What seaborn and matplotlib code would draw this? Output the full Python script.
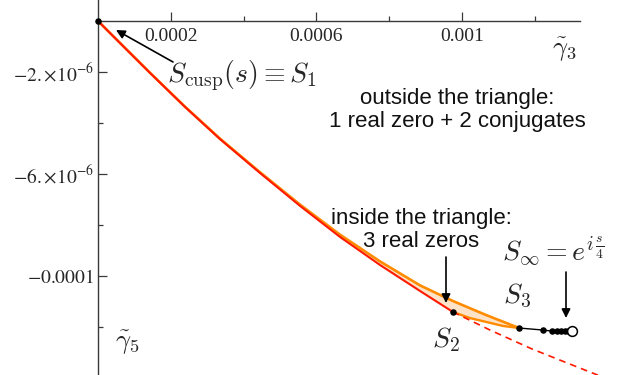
import numpy as np
import pandas as pd
import matplotlib
matplotlib.use("Agg")
import matplotlib.pyplot as plt
import seaborn as sns

# ==============================================================
# Values (gamma3 on x, gamma5 on y)
# ==============================================================
# S1 -> S2 : cusp curve (red, solid)
cusp_g3 = [0.0, 0.60e-4, 1.43e-4, 2.39e-4, 3.35e-4, 4.45e-4, 5.55e-4,
           6.65e-4, 7.75e-4, 8.85e-4, 9.75e-4]
cusp_g5 = [0.0, -0.86e-6, -2.04e-6, -3.37e-6, -4.63e-6, -5.96e-6, -7.25e-6,
           -8.47e-6, -9.57e-6, -10.59e-6, -11.41e-6]

# continuation of the cusp curve after S2 (red, dashed)
cusp_ext_g3 = [9.75e-4, 10.77e-4, 11.92e-4, 13.24e-4, 13.79e-4]
cusp_ext_g5 = [-11.41e-6, -12.12e-6, -12.86e-6, -13.61e-6, -13.92e-6]

# S1 -> S3 : upper edge of the triangle (orange)
upper_g3 = [0.0, 1.43e-4, 2.39e-4, 3.35e-4, 4.45e-4, 5.55e-4, 6.65e-4,
            7.75e-4, 8.85e-4, 9.75e-4, 10.66e-4, 11.57e-4]
upper_g5 = [0.0, -2.03e-6, -3.36e-6, -4.61e-6, -5.93e-6, -7.20e-6, -8.38e-6,
            -9.43e-6, -10.37e-6, -10.98e-6, -11.53e-6, -12.04e-6]

# S2 -> S3 : lower edge of the triangle (orange)
lower_g3 = [9.75e-4, 10.22e-4, 10.66e-4, 11.13e-4, 11.57e-4]
lower_g5 = [-11.41e-6, -11.65e-6, -11.80e-6, -11.96e-6, -12.04e-6]

# S3 -> S_inf : black chain of points
chain_g3 = [11.57e-4, 12.23e-4, 12.47e-4, 12.61e-4, 12.72e-4, 12.83e-4, 12.91e-4]
chain_g5 = [-12.04e-6, -12.12e-6, -12.16e-6, -12.16e-6, -12.16e-6, -12.16e-6, -12.16e-6]
sinf_g3 = [13.02e-4]
sinf_g5 = [-12.16e-6]

# marked points S1, S2
marks_g3 = [0.0, 9.75e-4]
marks_g5 = [0.0, -11.41e-6]

# ticks
xticks_major = [0.0002, 0.0006, 0.001]
xtick_labels = ["0.0002", "0.0006", "0.001"]
xticks_minor = [0.0004, 0.0008, 0.0012]
yticks_major = [-2e-6, -6e-6, -10e-6]
ytick_labels = [r"$-2.{\times}10^{-6}$", r"$-6.{\times}10^{-6}$", r"$-0.0001$"]
yticks_minor = [-4e-6, -8e-6, -12e-6]

# ==============================================================
# Figure
# ==============================================================
sns.set_theme(style="white")
plt.rcParams["font.family"] = ["Liberation Sans", "DejaVu Sans"]
plt.rcParams["mathtext.fontset"] = "cm"

W, H = 639, 375
fig = plt.figure(figsize=(W / 100, H / 100), dpi=100)
ax = fig.add_axes([0, 0, 1, 1])


def fxy(px, py):
    # pixel position in the picture -> figure fraction
    return (px / W, 1 - py / H)


RED = "#ff1a00"
ORANGE = "#ff8c00"
FILL = "#ffe3c8"
AXC = "#3a3a3a"

# triangle fill S1 -> S3 -> S2 -> S1
tri_x = upper_g3 + lower_g3[::-1] + cusp_g3[::-1]
tri_y = upper_g5 + lower_g5[::-1] + cusp_g5[::-1]
ax.fill(tri_x, tri_y, color=FILL, lw=0, zorder=1)

sns.lineplot(x=upper_g3, y=upper_g5, ax=ax, color=ORANGE, lw=1.9,
             sort=False, estimator=None, zorder=2)
sns.lineplot(x=lower_g3, y=lower_g5, ax=ax, color=ORANGE, lw=1.7,
             sort=False, estimator=None, zorder=2)
sns.lineplot(x=cusp_g3, y=cusp_g5, ax=ax, color=RED, lw=1.5,
             sort=False, estimator=None, zorder=3)
sns.lineplot(x=cusp_ext_g3, y=cusp_ext_g5, ax=ax, color=RED, lw=1.2,
             linestyle=(0, (4, 3)), sort=False, estimator=None, zorder=3)
sns.lineplot(x=chain_g3 + sinf_g3, y=chain_g5 + sinf_g5, ax=ax, color="black",
             lw=1.0, sort=False, estimator=None, zorder=4)
sns.scatterplot(x=chain_g3, y=chain_g5, ax=ax, color="black", s=22,
                linewidth=0, zorder=5)
sns.scatterplot(x=marks_g3, y=marks_g5, ax=ax, color="black", s=22,
                linewidth=0, zorder=5)
sns.scatterplot(x=sinf_g3, y=sinf_g5, ax=ax, facecolor="white",
                edgecolor="black", s=50, linewidth=1.1, zorder=6)

# axes through the origin
ax.set_xlim(-98 * 2.7473e-6, (W - 98) * 2.7473e-6)
ax.set_ylim(-(H - 21) / 25.5e6, 21 / 25.5e6)
for s in ["top", "right"]:
    ax.spines[s].set_visible(False)
ax.spines["bottom"].set_position(("data", 0))
ax.spines["left"].set_position(("data", 0))
ax.spines["bottom"].set_bounds(0, 0.001324)
for s in ["bottom", "left"]:
    ax.spines[s].set_color(AXC)
    ax.spines[s].set_linewidth(1.0)

ax.set_xticks(xticks_major)
ax.set_xticklabels(xtick_labels)
ax.set_xticks(xticks_minor, minor=True)
ax.set_yticks(yticks_major)
ax.set_yticklabels(ytick_labels)
ax.set_yticks(yticks_minor, minor=True)
ax.tick_params(which="major", direction="in", length=6.5, width=0.9,
               color=AXC, labelsize=14)
ax.tick_params(which="minor", direction="in", length=3.6, width=0.9, color=AXC)
ax.tick_params(axis="x", which="both", bottom=True, pad=5)
ax.tick_params(axis="y", which="both", left=True, pad=3)
for lab in ax.get_xticklabels() + ax.get_yticklabels():
    lab.set_fontfamily(["Liberation Serif", "DejaVu Serif"])
    lab.set_math_fontfamily("stix")
ax.grid(False)
ax.set_xlabel("")
ax.set_ylabel("")

# ==============================================================
# Labels and arrows
# ==============================================================
arrow = dict(arrowstyle="-|>", color="black", lw=1.2, mutation_scale=13,
             shrinkA=0, shrinkB=0)

fig.text(*fxy(565, 50), r"$\tilde{\gamma}_3$", fontsize=19, ha="center", va="center")
fig.text(*fxy(128, 343), r"$\tilde{\gamma}_5$", fontsize=19, ha="center", va="center")

fig.text(*fxy(167, 76), r"$S_{\rm cusp}(s)\equiv S_1$", fontsize=20, ha="left", va="center")
ax.annotate("", xy=fxy(116, 30), xytext=fxy(173, 62),
            xycoords="figure fraction", textcoords="figure fraction", arrowprops=arrow)

fig.text(*fxy(457, 110), "outside the triangle:\n1 real zero + 2 conjugates",
         fontsize=16, ha="center", va="center", linespacing=1.1, color="#111111")
fig.text(*fxy(421, 230), "inside the triangle:\n3 real zeros",
         fontsize=16, ha="center", va="center", linespacing=1.1, color="#111111")
ax.annotate("", xy=fxy(446, 303), xytext=fxy(446, 257),
            xycoords="figure fraction", textcoords="figure fraction", arrowprops=arrow)

fig.text(*fxy(502, 251), r"$S_\infty = e^{i\,\frac{s}{4}}$", fontsize=20, ha="left", va="center")
ax.annotate("", xy=fxy(566, 318), xytext=fxy(566, 272),
            xycoords="figure fraction", textcoords="figure fraction", arrowprops=arrow)

fig.text(*fxy(517, 296), r"$S_3$", fontsize=20, ha="center", va="center")
fig.text(*fxy(446, 340), r"$S_2$", fontsize=20, ha="center", va="center")

fig.savefig("out.png", dpi=100)
